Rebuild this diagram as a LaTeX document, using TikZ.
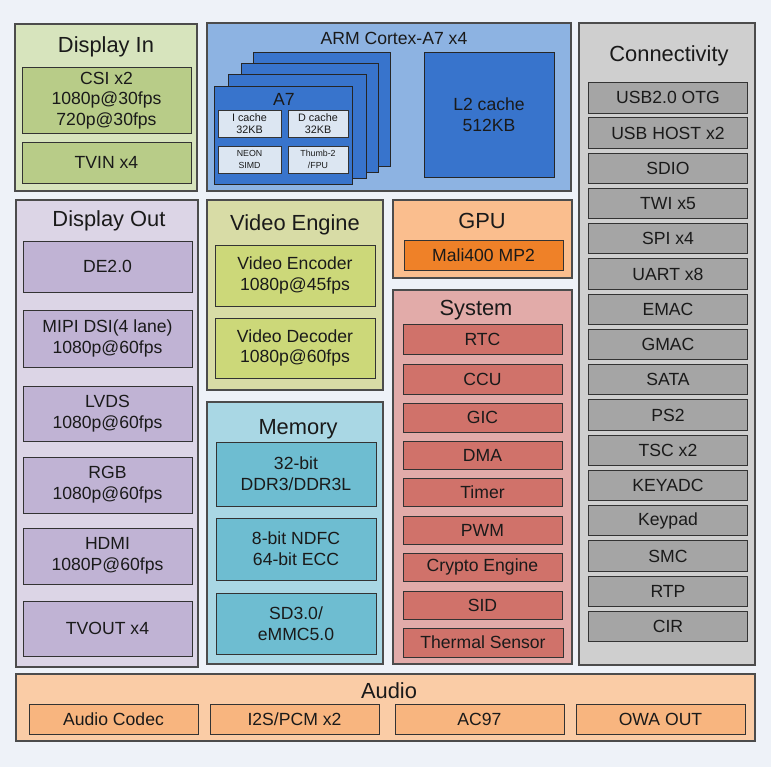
\documentclass[tikz,border=0pt]{standalone}
\usepackage{fontspec}
\setmainfont{Liberation Sans}
\definecolor{bgc}{HTML}{EEF2F8}
\definecolor{dinO}{HTML}{D7E4BD}
\definecolor{dinI}{HTML}{B8CC88}
\definecolor{armO}{HTML}{8DB3E2}
\definecolor{armC}{HTML}{3874CC}
\definecolor{armS}{HTML}{DCE6F2}
\definecolor{conO}{HTML}{CFCFCF}
\definecolor{conI}{HTML}{A5A5A5}
\definecolor{douO}{HTML}{DCD5E6}
\definecolor{douI}{HTML}{C0B3D4}
\definecolor{veO}{HTML}{D8DCA6}
\definecolor{veI}{HTML}{CCD879}
\definecolor{memO}{HTML}{A9D7E4}
\definecolor{memI}{HTML}{6EBDD1}
\definecolor{gpuO}{HTML}{FABE8E}
\definecolor{gpuI}{HTML}{EF8128}
\definecolor{sysO}{HTML}{E2ABA9}
\definecolor{sysI}{HTML}{D0726A}
\definecolor{audO}{HTML}{FACCA6}
\definecolor{audI}{HTML}{F8B57F}
\definecolor{txt}{HTML}{1A1A1A}
\newcommand{\blk}[7]{\node[#6, minimum width={(#4-#2)*0.75pt}, minimum height={(#5-#3)*0.75pt}] (#1) at ({(#2+#4)/2},{(#3+#5)/2}) {#7};}
\tikzset{
  outerbox/.style={draw=black!70, line width=0.8pt, inner sep=0pt, outer sep=0pt},
  innerbox/.style={draw=black!80, line width=0.75pt, inner sep=0pt, outer sep=0pt, align=center, text=txt,
    font=\fontsize{13.2}{15.6}\selectfont},
  card/.style={draw=black!85, line width=0.75pt, fill=armC, inner sep=0pt, outer sep=0pt},
  smallbox/.style={draw=black!80, line width=0.6pt, fill=armS, inner sep=0pt, outer sep=0pt, align=center, text=txt},
  title/.style={text=txt, font=\fontsize{16.4}{19}\selectfont, inner sep=0pt, yshift=-1.8pt},
}
\begin{document}
\begin{tikzpicture}[x=0.75pt,y=-0.75pt]
\fill[bgc] (0,0) rectangle (771,767);
\useasboundingbox (0,0) rectangle (771,767);

% Display In
\blk{din}{15}{24}{197}{191}{outerbox, fill=dinO}{}
\node[title] (dint) at (106,44) {Display In};
\blk{csi}{22}{68}{191}{133}{innerbox, fill=dinI}{CSI x2\\1080p@30fps\\720p@30fps}
\blk{tvin}{22}{142}{191}{183}{innerbox, fill=dinI}{TVIN x4}

% ARM
\blk{arm}{207}{23}{571}{191}{outerbox, fill=armO}{}
\node[text=txt, font=\fontsize{13.2}{15.6}\selectfont, inner sep=0pt] (armt) at (394,38) {ARM Cortex-A7 x4};
\blk{card4}{253}{53}{390}{166}{card}{}
\blk{card3}{241}{64}{378}{172}{card}{}
\blk{card2}{228}{75}{366}{178}{card}{}
\blk{card1}{214}{87}{352}{184}{card}{}
\node[text=txt, font=\fontsize{13.2}{15.6}\selectfont, inner sep=0pt] (a7t) at (284,99) {A7};
\blk{icache}{218}{110}{281}{137}{smallbox, font=\fontsize{8.1}{9.3}\selectfont}{I cache\\32KB}
\blk{dcache}{288}{110}{348}{137}{smallbox, font=\fontsize{8.1}{9.3}\selectfont}{D cache\\32KB}
\blk{neon}{218}{146}{281}{173}{smallbox, font=\fontsize{6.6}{8.5}\selectfont}{NEON\\SIMD}
\blk{thumb}{288}{146}{348}{173}{smallbox, font=\fontsize{6.6}{8.5}\selectfont}{Thumb-2\\/FPU}
\blk{l2}{424}{53}{554}{177}{card, align=center, text=txt, font=\fontsize{13.2}{15.8}\selectfont}{L2 cache\\512KB}

% Connectivity
\blk{con}{579}{23}{755}{665}{outerbox, fill=conO}{}
\node[title] (cont) at (669,53) {Connectivity};
\foreach \t [count=\i from 0] in {USB2.0 OTG,USB HOST x2,SDIO,TWI x5,SPI x4,UART x8,EMAC,GMAC,SATA,PS2,TSC x2,KEYADC,Keypad,SMC,RTP,CIR}{
  \pgfmathsetmacro{\ya}{82.7+35.24*\i}
  \pgfmathsetmacro{\yb}{\ya+30.3}
  \blk{c\i}{588.3}{\ya}{747.7}{\yb}{innerbox, fill=conI}{\t}
}

% Display Out
\blk{dout}{16}{200}{198}{667}{outerbox, fill=douO}{}
\node[title] (doutt) at (109,218) {Display Out};
\blk{de}{23}{241}{192}{292}{innerbox, fill=douI}{DE2.0}
\blk{mipi}{23}{310}{192}{367}{innerbox, fill=douI}{MIPI DSI(4 lane)\\1080p@60fps}
\blk{lvds}{23}{386}{192}{441}{innerbox, fill=douI}{LVDS\\1080p@60fps}
\blk{rgb}{23}{457}{192}{513}{innerbox, fill=douI}{RGB\\1080p@60fps}
\blk{hdmi}{23}{528}{192}{584}{innerbox, fill=douI}{HDMI\\1080P@60fps}
\blk{tvout}{23}{601}{192}{656}{innerbox, fill=douI}{TVOUT x4}

% Video Engine
\blk{ve}{207}{200}{383}{390}{outerbox, fill=veO}{}
\node[title] (vet) at (295,222) {Video Engine};
\blk{venc}{215}{245}{375}{306}{innerbox, fill=veI}{Video Encoder\\1080p@45fps}
\blk{vdec}{215}{318}{375}{378}{innerbox, fill=veI}{Video Decoder\\1080p@60fps}

% Memory
\blk{mem}{207}{402}{383}{664}{outerbox, fill=memO}{}
\node[title] (memt) at (298,427) {Memory};
\blk{ddr}{216}{442}{376}{506}{innerbox, fill=memI}{32-bit\\DDR3/DDR3L}
\blk{ndfc}{216}{518}{376}{580}{innerbox, fill=memI}{8-bit NDFC\\64-bit ECC}
\blk{sd}{216}{593}{376}{654}{innerbox, fill=memI}{SD3.0/\\eMMC5.0}

% GPU
\blk{gpu}{393}{200}{572}{278}{outerbox, fill=gpuO}{}
\node[title] (gput) at (482,219) {GPU};
\blk{mali}{404}{240}{563}{270}{innerbox, fill=gpuI}{Mali400 MP2}

% System
\blk{sys}{393}{290}{572}{664}{outerbox, fill=sysO}{}
\node[title] (syst) at (476,308) {System};
\blk{rtc}{403}{324}{562}{354}{innerbox, fill=sysI}{RTC}
\blk{ccu}{403}{364}{562}{394}{innerbox, fill=sysI}{CCU}
\blk{gic}{403}{403}{562}{432}{innerbox, fill=sysI}{GIC}
\blk{dma}{403}{441}{562}{469}{innerbox, fill=sysI}{DMA}
\blk{timer}{403}{478}{562}{506}{innerbox, fill=sysI}{Timer}
\blk{pwm}{403}{516}{562}{544}{innerbox, fill=sysI}{PWM}
\blk{crypto}{403}{553}{562}{581}{innerbox, fill=sysI}{Crypto Engine}
\blk{sid}{403}{591}{562}{619}{innerbox, fill=sysI}{SID}
\blk{therm}{403}{628}{563}{657}{innerbox, fill=sysI}{Thermal Sensor}

% Audio
\blk{aud}{16}{674}{755}{741}{outerbox, fill=audO}{}
\node[title] (audt) at (389,688) {Audio};
\blk{codec}{29}{704}{198}{734}{innerbox, fill=audI}{Audio Codec}
\blk{i2s}{210}{704}{379}{734}{innerbox, fill=audI}{I2S/PCM x2}
\blk{ac97}{395}{704}{564}{734}{innerbox, fill=audI}{AC97}
\blk{owa}{576}{704}{745}{734}{innerbox, fill=audI}{OWA OUT}
\end{tikzpicture}
\end{document}
